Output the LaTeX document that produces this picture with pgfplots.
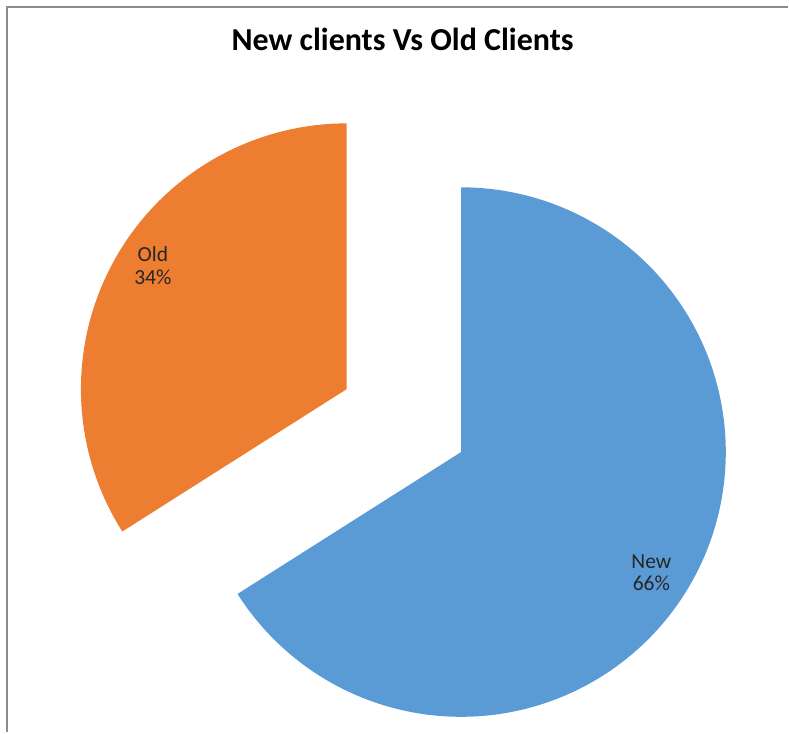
\documentclass[border=0pt]{standalone}
\usepackage{fontspec}
\setmainfont{Carlito}
\usepackage{pgfplots}
\pgfplotsset{compat=1.18}
\usepackage{pgfplotstable}
\definecolor{newblue}{HTML}{5B9BD5}
\definecolor{oldorange}{HTML}{ED7D31}
\definecolor{framegray}{HTML}{8C8C8C}
% Shares (percent): New = 66, Old = 34
% New wedge: from 90 deg clockwise by 3.6*66 = 237.6 deg -> ends at -147.6 deg
% Old wedge: from 90 deg counter-clockwise by 3.6*34 = 122.4 deg -> ends at 212.4 deg
\begin{document}
\begin{tikzpicture}
\begin{axis}[
  scale only axis, width=789bp, height=733bp,
  xmin=0, xmax=789, ymin=0, ymax=733,
  hide axis, clip=false,
]
\path (axis cs:0,0) rectangle (axis cs:789,733);
% frame (top and left edges)
\draw[framegray, line width=1.5bp] (axis cs:7,0) -- (axis cs:7,726) -- (axis cs:789,726);
% New 66%
\addplot[fill=newblue, draw=none, domain=-147.6:90, samples=240, variable=\t]
  ({461.5+265*cos(\t)}, {280.5+265*sin(\t)}) -- (axis cs:461.5,280.5) -- cycle;
% Old 34% (exploded)
\addplot[fill=oldorange, draw=none, domain=90:212.4, samples=160, variable=\t]
  ({347+266*cos(\t)}, {343.5+266*sin(\t)}) -- (axis cs:347,343.5) -- cycle;
% title
\node[anchor=base, font=\fontsize{32bp}{38bp}\selectfont\bfseries] at (axis cs:403,682.3) {New clients Vs Old Clients};
% data labels
\node[anchor=base, font=\fontsize{21.5bp}{26bp}\selectfont, text=black!85] at (axis cs:153,471) {Old};
\node[anchor=base, font=\fontsize{21.5bp}{26bp}\selectfont, text=black!85] at (axis cs:153,448) {34\%};
\node[anchor=base, font=\fontsize{21.5bp}{26bp}\selectfont, text=black!85] at (axis cs:652,164) {New};
\node[anchor=base, font=\fontsize{21.5bp}{26bp}\selectfont, text=black!85] at (axis cs:652,142) {66\%};
\end{axis}
\end{tikzpicture}
\end{document}
